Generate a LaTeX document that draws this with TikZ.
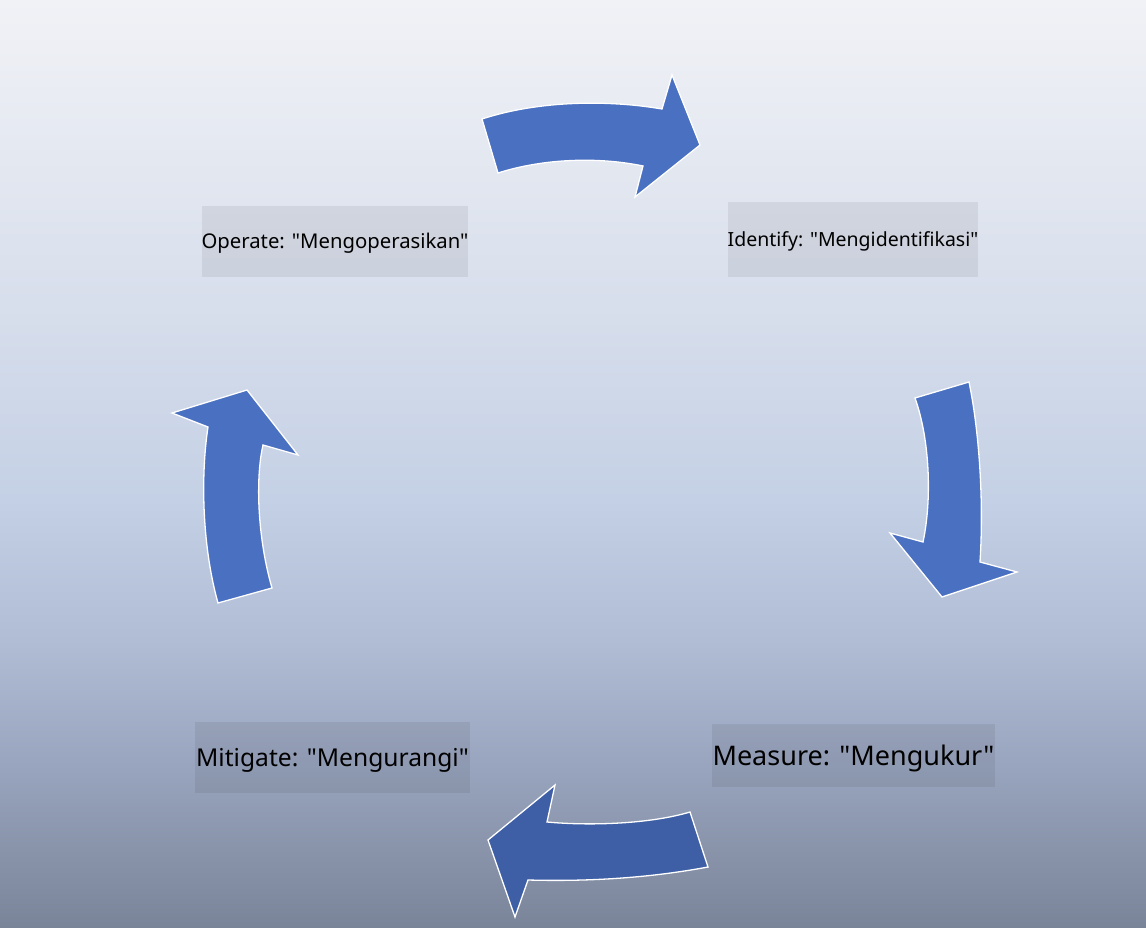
\documentclass[tikz,border=0pt]{standalone}
\usepackage{fontspec}
\setmainfont{Noto Sans}[Ligatures=TeXOff]
\definecolor{bgA}{RGB}{241,242,246}
\definecolor{bgB}{RGB}{216,223,236}
\definecolor{bgC}{RGB}{196,208,229}
\definecolor{bgD}{RGB}{176,189,213}
\definecolor{bgE}{RGB}{152,164,189}
\definecolor{bgF}{RGB}{122,132,153}
\definecolor{arrowblue}{RGB}{74,112,194}
\definecolor{arrowdark}{RGB}{62,95,166}
\tikzset{
  cyclearrow/.style={fill=arrowblue, draw=white, line width=1.3pt, line join=miter},
  labelbox/.style={fill=black, fill opacity=0.065, text opacity=1, text=black, inner sep=0pt, text depth=0pt},
}
\begin{document}
\begin{tikzpicture}[x=1pt,y=-1pt]
\useasboundingbox (0,0) rectangle (1146,928);
% background
\shade[top color=bgA, bottom color=bgB] (0,0) rectangle (1146,300);
\shade[top color=bgB, bottom color=bgC] (0,299.5) rectangle (1146,500);
\shade[top color=bgC, bottom color=bgD] (0,499.5) rectangle (1146,640);
\shade[top color=bgD, bottom color=bgE] (0,639.5) rectangle (1146,770);
\shade[top color=bgE, bottom color=bgF] (0,769.5) rectangle (1146,928);
% arrows
\draw[cyclearrow] (482,119) .. controls (540,100) and (610,100) .. (662,109) -- (672,75) -- (700,145) -- (635,197) -- (643,166) .. controls (600,157) and (545,158) .. (498,173) -- cycle;
\draw[cyclearrow] (915,398) -- (969,382) .. controls (979,430) and (984,500) .. (980,562) -- (1017,572) -- (942,597) -- (890,533) -- (923,542) .. controls (932,500) and (930,440) .. (915,398) -- cycle;
\draw[cyclearrow, fill=arrowdark] (690,812) -- (708,867) .. controls (660,876) and (600,882) .. (528,880) -- (515,917) -- (488,840) -- (555,785) -- (547,822) .. controls (590,826) and (650,824) .. (690,812) -- cycle;
\draw[cyclearrow] (218,603) -- (272,588) .. controls (258,540) and (255,480) .. (263,445) -- (298,455) -- (247,390) -- (172,413) -- (208,427) .. controls (200,480) and (203,550) .. (218,603) -- cycle;
% labels
\node[labelbox, minimum width=266pt, minimum height=71pt, text height=14.5pt, font=\fontsize{20.3}{24}\selectfont] (operate) at (335,241.5) {Operate: "Mengoperasikan"};
\node[labelbox, minimum width=250pt, minimum height=75pt, text height=13.9pt, font=\fontsize{19.5}{24}\selectfont] (identify) at (853,239.5) {Identify: "Mengidentifikasi"};
\node[labelbox, minimum width=275pt, minimum height=71pt, text height=17.6pt, font=\fontsize{24.6}{28}\selectfont] (mitigate) at (332.5,757.5) {Mitigate: "Mengurangi"};
\node[labelbox, minimum width=283pt, minimum height=63pt, text height=19.3pt, font=\fontsize{27}{30}\selectfont] (measure) at (853.5,755.5) {Measure: "Mengukur"};
\end{tikzpicture}
\end{document}
